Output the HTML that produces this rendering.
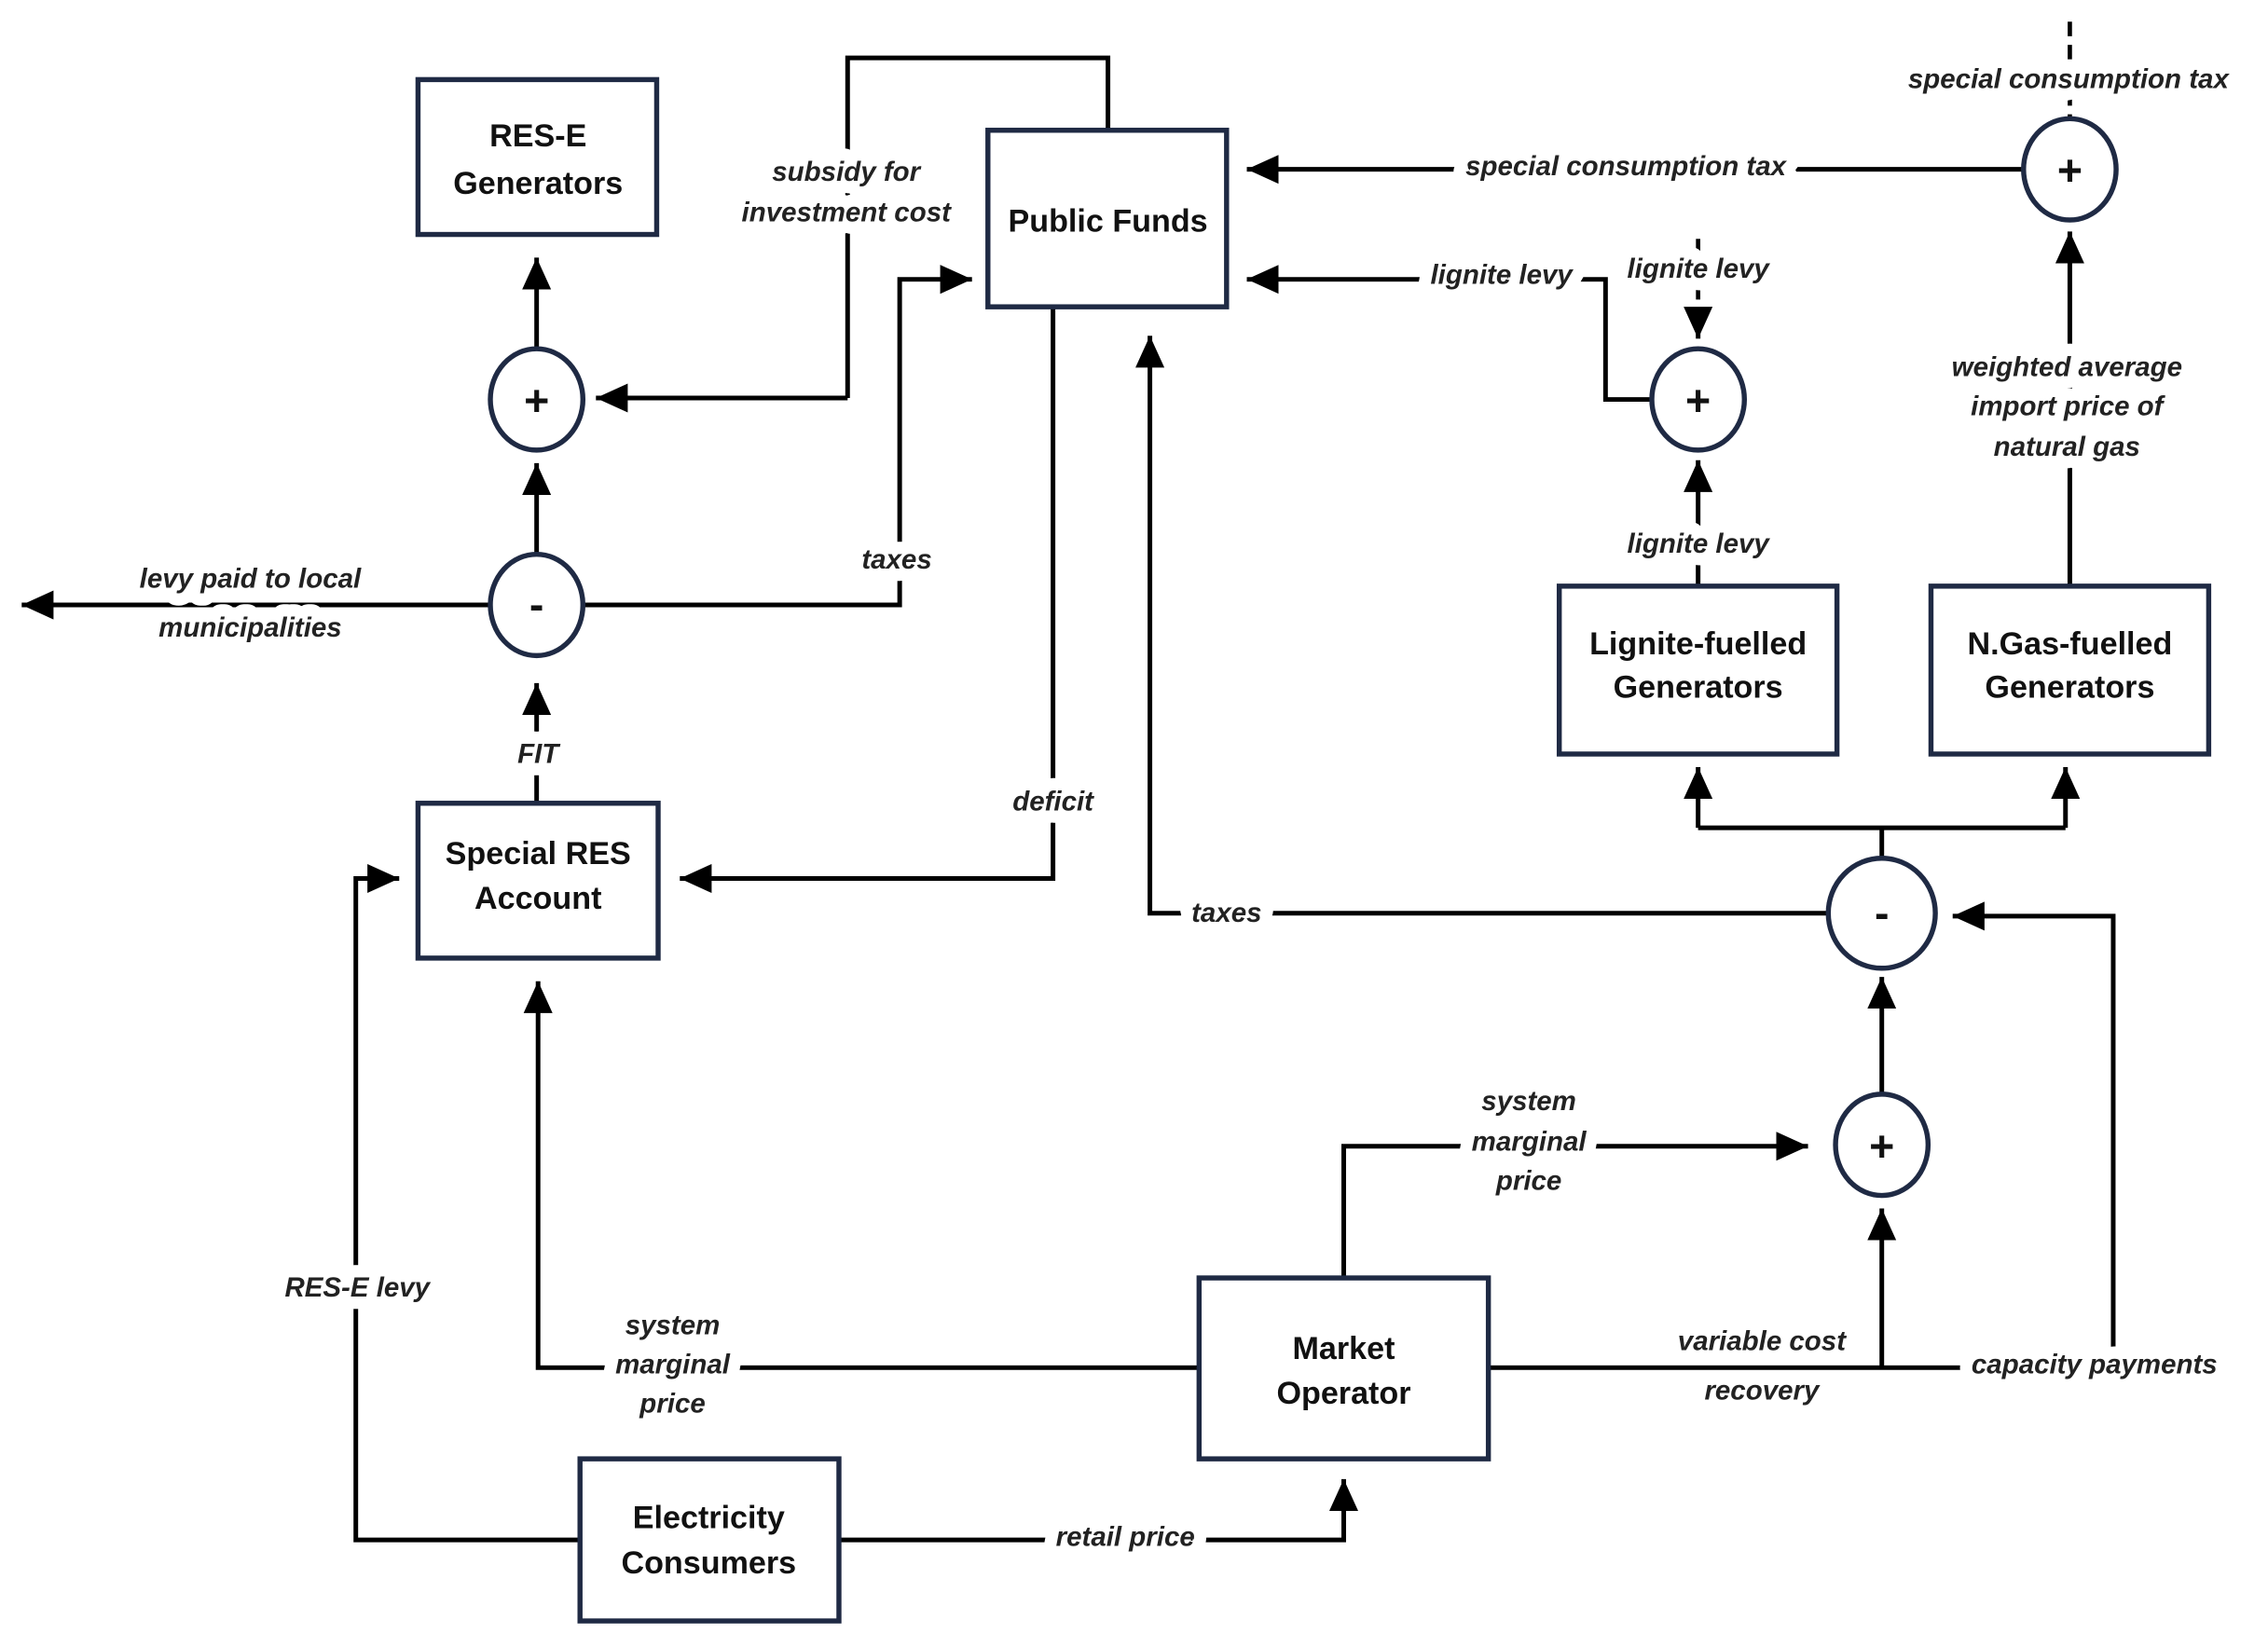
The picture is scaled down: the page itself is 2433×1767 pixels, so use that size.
<!DOCTYPE html>
<html><head><meta charset="utf-8"><style>
html,body{margin:0;padding:0;background:#fff}
svg{display:block}
.l{fill:none;stroke:#000;stroke-width:3.2}
.a{fill:none;stroke:#000;stroke-width:3.2;marker-end:url(#ar)}
.d{fill:none;stroke:#000;stroke-width:3;stroke-dasharray:10,6}
.b{fill:#fff;stroke:#1f2a44;stroke-width:3.5}
.t{font-family:"Liberation Sans Narrow","Liberation Sans",sans-serif;font-weight:bold;font-size:22px;text-anchor:middle;fill:#111}
.i{font-family:"Liberation Sans Narrow","Liberation Sans",sans-serif;font-weight:bold;font-style:italic;font-size:19px;text-anchor:middle;fill:#222;paint-order:stroke;stroke:#fff;stroke-width:17px;stroke-linejoin:round}
.s{font-family:"Liberation Sans",sans-serif;font-weight:bold;font-size:30px;text-anchor:middle;fill:#111}
</style></head><body>
<svg width="2433" height="1767" viewBox="0 0 1568 1138" preserveAspectRatio="none" xmlns="http://www.w3.org/2000/svg">
<defs><marker id="ar" markerUnits="userSpaceOnUse" markerWidth="24" markerHeight="24" viewBox="0 0 24 24" refX="22" refY="12" orient="auto"><path d="M0,2 L22,12 L0,22 z" fill="#000"/></marker></defs>

<polyline class="l" points="586,275 586,40 766,40 766,90"/>
<polyline class="a" points="586,275 412,275"/>
<line class="a" x1="371" y1="243" x2="371" y2="178"/>
<line class="a" x1="371" y1="385" x2="371" y2="320"/>
<line class="a" x1="338" y1="418" x2="15" y2="418"/>
<polyline class="a" points="404,418 622,418 622,193 672,193"/>
<line class="a" x1="371" y1="555" x2="371" y2="472"/>
<polyline class="a" points="728,212 728,607 470,607"/>
<polyline class="a" points="1263,631 795,631 795,232"/>
<line class="a" x1="1398" y1="117" x2="862" y2="117"/>
<line class="d" x1="1431" y1="15" x2="1431" y2="84"/>
<polyline class="a" points="1141,276 1110,276 1110,193 862,193"/>
<line class="d" x1="1174" y1="165" x2="1174" y2="225"/>
<line class="a" x1="1174" y1="218" x2="1174" y2="234"/>
<line class="a" x1="1174" y1="405" x2="1174" y2="318"/>
<line class="a" x1="1431" y1="405" x2="1431" y2="160"/>
<line class="l" x1="1301" y1="598" x2="1301" y2="572"/>
<polyline class="a" points="1174,572 1174,530"/>
<polyline class="l" points="1174,572 1428,572"/>
<line class="a" x1="1428" y1="572" x2="1428" y2="530"/>
<line class="a" x1="1301" y1="758" x2="1301" y2="675"/>
<polyline class="a" points="1029,945 1461,945 1461,633 1350,633"/>
<line class="a" x1="1301" y1="945" x2="1301" y2="835"/>
<polyline class="a" points="929,883 929,792 1250,792"/>
<polyline class="a" points="829,945 372,945 372,678"/>
<polyline class="a" points="401,1064 246,1064 246,607 276,607"/>
<polyline class="a" points="580,1064 929,1064 929,1022"/>

<rect class="b" x="289" y="55" width="165" height="107"/>
<text class="t" x="372" y="101">RES-E</text><text class="t" x="372" y="134">Generators</text>
<rect class="b" x="683" y="90" width="165" height="122"/>
<text class="t" x="766" y="160">Public Funds</text>
<rect class="b" x="289" y="555" width="166" height="107"/>
<text class="t" x="372" y="597">Special RES</text><text class="t" x="372" y="628">Account</text>
<rect class="b" x="1078" y="405" width="192" height="116"/>
<text class="t" x="1174" y="452">Lignite-fuelled</text><text class="t" x="1174" y="482">Generators</text>
<rect class="b" x="1335" y="405" width="192" height="116"/>
<text class="t" x="1431" y="452">N.Gas-fuelled</text><text class="t" x="1431" y="482">Generators</text>
<rect class="b" x="829" y="883" width="200" height="125"/>
<text class="t" x="929" y="939">Market</text><text class="t" x="929" y="970">Operator</text>
<rect class="b" x="401" y="1008" width="179" height="112"/>
<text class="t" x="490" y="1056">Electricity</text><text class="t" x="490" y="1087">Consumers</text>

<ellipse class="b" cx="371" cy="276" rx="32" ry="35"/><text class="s" x="371" y="287">+</text>
<ellipse class="b" cx="371" cy="418" rx="32" ry="35"/><text class="s" x="371" y="428">-</text>
<ellipse class="b" cx="1174" cy="276" rx="32" ry="35"/><text class="s" x="1174" y="287">+</text>
<ellipse class="b" cx="1431" cy="117" rx="32" ry="35"/><text class="s" x="1431" y="128">+</text>
<ellipse class="b" cx="1301" cy="631" rx="37" ry="38"/><text class="s" x="1301" y="641">-</text>
<ellipse class="b" cx="1301" cy="791" rx="32" ry="35"/><text class="s" x="1301" y="802">+</text>

<text class="i" x="585" y="125">subsidy for</text><text class="i" x="585" y="153">investment cost</text>
<text class="i" x="173" y="406">levy paid to local</text><text class="i" x="173" y="440">municipalities</text>
<text class="i" x="620" y="393">taxes</text>
<text class="i" x="372" y="527">FIT</text>
<text class="i" x="728" y="560">deficit</text>
<text class="i" x="848" y="637">taxes</text>
<text class="i" x="1124" y="121">special consumption tax</text>
<text class="i" x="1430" y="61">special consumption tax</text>
<text class="i" x="1038" y="196">lignite levy</text>
<text class="i" x="1174" y="192">lignite levy</text>
<text class="i" x="1174" y="382">lignite levy</text>
<text class="i" x="1429" y="260">weighted average</text><text class="i" x="1429" y="287">import price of</text><text class="i" x="1429" y="315">natural gas</text>
<text class="i" x="1057" y="767">system</text><text class="i" x="1057" y="795">marginal</text><text class="i" x="1057" y="822">price</text>
<text class="i" x="465" y="922">system</text><text class="i" x="465" y="949">marginal</text><text class="i" x="465" y="976">price</text>
<text class="i" x="1218" y="933">variable cost</text><text class="i" x="1218" y="967">recovery</text>
<text class="i" x="1448" y="949">capacity payments</text>
<text class="i" x="247" y="896">RES-E levy</text>
<text class="i" x="778" y="1068">retail price</text>
</svg>
</body></html>
